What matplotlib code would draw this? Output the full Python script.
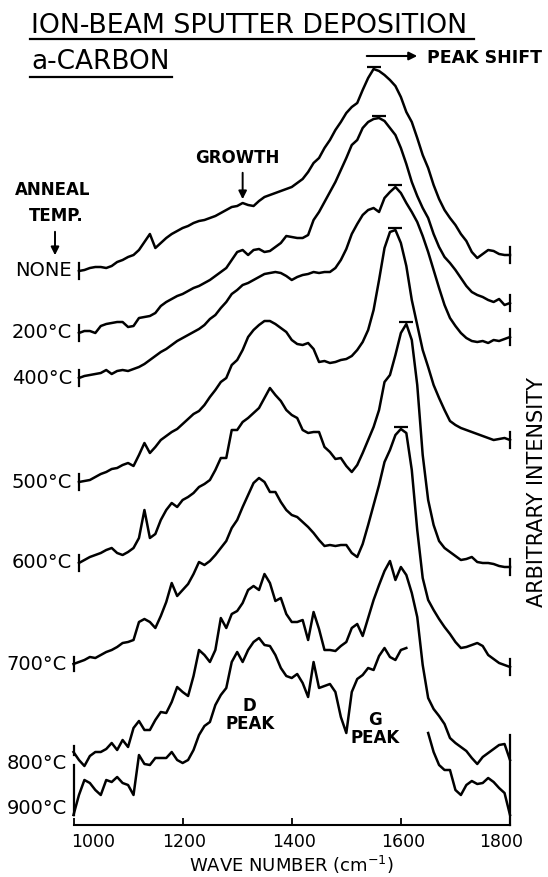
import numpy as np
import matplotlib.pyplot as plt
from matplotlib.lines import Line2D

nan = np.nan

# Raman spectra of ion-beam sputtered a-C, one trace per anneal temperature.
# Intensities are arbitrary units, already stacked with a vertical offset.
wavenumber = np.arange(1000, 1801, 10)

anneal_labels = ['NONE', '200°C', '400°C', '500°C', '600°C', '700°C', '800°C', '900°C']

as_dep = [nan,
          554, 555, 557, 558, 558, 557, 559, 563, 565, 568,
          570, 575, 583, 591, 577, 582, 587, 591, 594, 597,
          599, 602, 604, 605, 607, 609, 612, 615, 618, 619,
          622, 620, 619, 624, 628, 630, 632, 634, 636, 638,
          642, 646, 653, 662, 667, 677, 685, 695, 703, 712,
          718, 722, 735, 747, 756, 754, 750, 745, 739, 728,
          713, 703, 687, 670, 657, 640, 626, 615, 607, 600,
          591, 584, 573, 567, 571, 575, 574, 571, 570, 570]

t200 = [nan,
        492, 494, 494, 492, 499, 501, 502, 503, 503, 498,
        499, 507, 508, 509, 512, 519, 523, 526, 529, 531,
        534, 537, 539, 542, 545, 549, 553, 557, 565, 573,
        575, 570, 575, 576, 573, 574, 578, 582, 589, 588,
        587, 587, 590, 605, 613, 623, 633, 643, 655, 667,
        680, 685, 697, 703, 706, 707, 704, 697, 690, 677,
        661, 643, 629, 617, 607, 591, 578, 568, 562, 555,
        547, 539, 533, 530, 528, 525, 523, 526, 520, 522]

t400 = [nan,
        447, 449, 450, 451, 452, 455, 451, 454, 455, 454,
        456, 458, 461, 465, 469, 473, 476, 480, 484, 487,
        490, 493, 496, 500, 506, 510, 517, 523, 531, 535,
        540, 542, 545, 548, 551, 552, 553, 552, 549, 545,
        548, 550, 551, 553, 552, 553, 553, 557, 565, 576,
        591, 601, 610, 615, 617, 613, 627, 633, 638, 632,
        622, 613, 603, 589, 573, 555, 537, 520, 507, 499,
        492, 487, 484, 483, 484, 482, 485, 484, 486, 488]

t500 = [nan,
        343, 344, 345, 348, 351, 353, 356, 357, 360, 362,
        359, 370, 382, 372, 378, 385, 389, 393, 396, 401,
        406, 411, 414, 420, 428, 435, 443, 447, 460, 465,
        475, 488, 495, 500, 504, 504, 501, 497, 493, 485,
        481, 480, 482, 476, 463, 464, 462, 463, 465, 466,
        469, 475, 483, 495, 515, 545, 577, 593, 595, 582,
        559, 525, 500, 475, 458, 440, 427, 415, 404, 400,
        397, 395, 393, 391, 389, 387, 385, 386, 387, 385]

t600 = [nan,
        262, 265, 268, 270, 272, 275, 277, 272, 270, 273,
        277, 287, 315, 287, 291, 305, 315, 322, 318, 325,
        328, 332, 338, 341, 345, 355, 367, 367, 395, 395,
        403, 407, 412, 417, 427, 437, 430, 424, 415, 410,
        407, 395, 392, 393, 393, 378, 373, 366, 367, 359,
        353, 360, 372, 385, 398, 415, 443, 450, 470, 492,
        501, 485, 440, 370, 325, 300, 284, 277, 273, 269,
        265, 266, 268, 263, 262, 262, 261, 259, 258, 258]

t700 = [161,
        163, 165, 168, 167, 170, 173, 175, 178, 182, 183,
        185, 203, 206, 203, 197, 209, 223, 242, 229, 235,
        241, 251, 263, 260, 264, 270, 277, 284, 297, 305,
        318, 330, 342, 347, 343, 333, 333, 323, 315, 310,
        308, 303, 298, 292, 285, 279, 280, 279, 280, 280,
        272, 268, 281, 300, 320, 340, 363, 375, 390, 396,
        392, 355, 295, 247, 225, 215, 206, 198, 191, 183,
        177, 178, 180, 182, 179, 170, 166, 162, 160, 158]

t800 = [73,
        65, 59, 69, 73, 73, 76, 82, 75, 85, 78,
        97, 104, 95, 95, 105, 113, 112, 123, 138, 133,
        129, 149, 175, 170, 163, 175, 207, 197, 211, 214,
        222, 235, 239, 235, 251, 242, 224, 227, 211, 203,
        203, 205, 185, 213, 196, 175, 175, 174, 179, 183,
        197, 201, 189, 207, 225, 240, 254, 264, 245, 258,
        250, 232, 208, 160, 127, 116, 109, 101, 87, 82,
        78, 74, 67, 61, 68, 72, 76, 80, 81, 65]

t900 = [10,
        30, 45, 42, 35, 30, 45, 43, 48, 42, 40,
        30, 70, 61, 60, 67, 67, 67, 73, 65, 62,
        65, 75, 90, 99, 103, 120, 130, 137, 163, 173,
        163, 175, 183, 187, 180, 179, 170, 157, 149, 147,
        151, 142, 128, 163, 137, 139, 141, 133, 108, 92,
        133, 146, 150, 157, 155, 169, 177, 168, 165, 175,
        177, nan, nan, nan, 92, 73, 60, 55, 55, 35,
        30, 40, 44, 41, 42, 47, 43, 37, 32, 10]

spectra = [as_dep, t200, t400, t500, t600, t700, t800, t900]

W, H = 548, 877


def fx(px):
    return px / W


def fy(py):
    return 1 - py / H


fig = plt.figure(figsize=(W / 100, H / 100), dpi=100)
ax = fig.add_axes([fx(73.5), 52 / H, 436.5 / W, 785 / H])

# end bars: (length below, length above) the first / last point
start_bar = [(8, 8), (8, 8), (8, 8), (8, 8), (8, 8), (7, 7), (3, 6), (0, 50)]
end_bar = [(8, 8), (8, 8), (8, 8), (8, 8), (8, 8), (8, 8), None, None]
label_dy = [0, 0, 0, 0, 0, 0, -8, 5]

for i, (lab, vals) in enumerate(zip(anneal_labels, spectra)):
    y = np.array(vals, dtype=float)
    ax.plot(wavenumber, y, color='k', lw=1.8, solid_joinstyle='round',
            clip_on=False)
    ok = np.where(~np.isnan(y))[0]
    i0, i1 = ok[0], ok[-1]
    lo, hi = start_bar[i]
    ax.plot([wavenumber[i0]] * 2, [y[i0] - lo, y[i0] + hi], color='k',
            lw=1.6, clip_on=False)
    if end_bar[i]:
        lo, hi = end_bar[i]
        ax.plot([wavenumber[i1]] * 2, [y[i1] - lo, y[i1] + hi], color='k',
                lw=1.6, clip_on=False)
    ax.annotate(lab, (wavenumber[i0], y[i0]), xytext=(-5, label_dy[i]),
                textcoords='offset points', ha='right', va='center',
                fontsize=14, annotation_clip=False)
    # bar on top of the G band maximum
    if i < 6:
        seg = (wavenumber >= 1500) & (wavenumber <= 1700)
        j = np.nanargmax(np.where(seg, y, -np.inf))
        ax.plot(wavenumber[j], y[j] + 2, marker='_', ms=10, mew=1.6,
                color='k', clip_on=False)

# shared end bar of the two top-temperature traces
ax.plot([1800, 1800], [0, t800[-1] + 25], color='k', lw=1.6, clip_on=False)

ax.set_xlim(1000, 1800)
ax.set_ylim(0, 785)
for s in ['left', 'right', 'top']:
    ax.spines[s].set_visible(False)
ax.spines['bottom'].set_linewidth(1.5)
ax.set_yticks([])
ax.set_xticks([1000, 1200, 1400, 1600, 1800])
ax.set_xticklabels([])
for wn in [1000, 1200, 1400, 1600, 1800]:
    shift = {1000: 20, 1800: -9}.get(wn, 2)
    ax.annotate(str(wn), (wn, 0), xytext=(shift * 0.72, -12),
                textcoords='offset points', ha='center', va='center',
                fontsize=12.5, annotation_clip=False)
ax.tick_params(axis='x', direction='in', length=5, width=1.3)
ax.set_xlabel('WAVE NUMBER (cm$^{-1}$)', fontsize=13, labelpad=17)

# growth arrow on the as-deposited trace
g_y = as_dep[list(wavenumber).index(1310)]
ax.text(1300, g_y + 45, 'GROWTH', ha='center', va='center', fontsize=12,
        fontweight='bold')
ax.annotate('', xy=(1310, g_y + 1), xytext=(1310, g_y + 33),
            arrowprops=dict(arrowstyle='-|>', color='k', lw=1.4,
                            mutation_scale=12))

ax.text(1323, 110, 'D\nPEAK', ha='center', va='center', fontsize=12,
        fontweight='bold', linespacing=1.0)
ax.text(1553, 96, 'G\nPEAK', ha='center', va='center', fontsize=12,
        fontweight='bold', linespacing=1.0)

# titles and side annotations
fig.text(fx(31), fy(26), 'ION-BEAM SPUTTER DEPOSITION', fontsize=19.3,
         ha='left', va='center')
fig.add_artist(Line2D([fx(30), fx(474)], [fy(38.5)] * 2, color='k', lw=1.6))
fig.text(fx(31), fy(62), 'a-CARBON', fontsize=19, ha='left', va='center')
fig.add_artist(Line2D([fx(30), fx(172)], [fy(77)] * 2, color='k', lw=1.6))

fig.text(fx(427), fy(58), 'PEAK SHIFT', fontsize=12.5, fontweight='bold',
         ha='left', va='center')
ax.annotate('', xy=(fx(420), fy(56)), xycoords='figure fraction',
            xytext=(fx(364), fy(56)), textcoords='figure fraction',
            arrowprops=dict(arrowstyle='-|>', color='k', lw=1.5,
                            mutation_scale=12))

fig.text(fx(53), fy(190), 'ANNEAL', fontsize=12, fontweight='bold',
         ha='center', va='center')
fig.text(fx(56), fy(216), 'TEMP.', fontsize=12, fontweight='bold',
         ha='center', va='center')
ax.annotate('', xy=(fx(55), fy(258)), xycoords='figure fraction',
            xytext=(fx(55), fy(229)), textcoords='figure fraction',
            arrowprops=dict(arrowstyle='-|>', color='k', lw=1.4,
                            mutation_scale=12))

fig.text(fx(537), fy(492), 'ARBITRARY INTENSITY', fontsize=15, rotation=90,
         ha='center', va='center')

fig.savefig('out.png', dpi=100)
